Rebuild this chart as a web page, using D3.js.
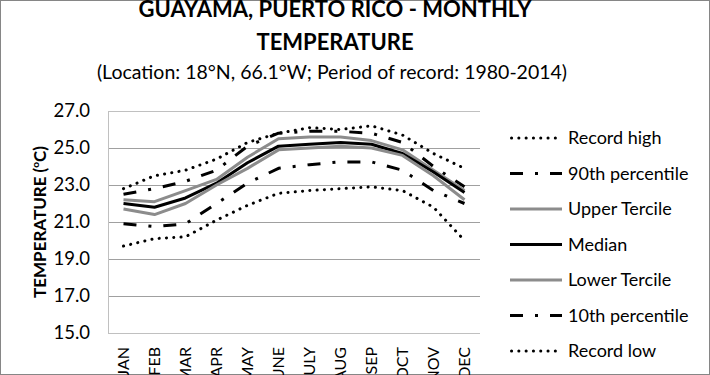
<!DOCTYPE html>
<html>
<head>
<meta charset="utf-8">
<script src="https://cdn.jsdelivr.net/npm/d3@7"></script>
<style>
  body { margin: 0; background: #fff; }
  svg text { font-family: Lato, "Open Sans", sans-serif; }
</style>
</head>
<body>
<div id="chart"></div>
<script>
// months on the x axis
const months = ["JAN", "FEB", "MAR", "APR", "MAY", "JUNE", "JULY", "AUG", "SEP", "OCT", "NOV", "DEC"];
const yTicks = [15, 17, 19, 21, 23, 25, 27];

// values (deg C)
const recordHigh = [22.8, 23.5, 23.8, 24.4, 25.3, 25.8, 26.1, 26.0, 26.2, 25.7, 24.7, 23.9];
const p90 = [22.5, 22.8, 23.2, 23.8, 25.1, 25.8, 25.9, 25.9, 25.8, 25.3, 24.0, 22.9];
const upperTercile = [22.2, 22.1, 22.7, 23.3, 24.5, 25.5, 25.6, 25.6, 25.4, 24.9, 23.8, 22.7];
const median = [22.0, 21.8, 22.3, 23.1, 24.2, 25.1, 25.2, 25.3, 25.2, 24.7, 23.7, 22.6];
const lowerTercile = [21.7, 21.4, 22.0, 23.0, 23.9, 24.9, 25.0, 25.1, 25.0, 24.6, 23.5, 22.2];
const p10 = [20.9, 20.75, 20.9, 22.0, 23.1, 23.9, 24.1, 24.25, 24.25, 23.8, 22.7, 22.0];
const recordLow = [19.7, 20.1, 20.2, 21.1, 21.9, 22.55, 22.7, 22.8, 22.9, 22.7, 21.8, 20.0];

const series = [
  { name: "Record high", values: recordHigh, color: "#000", width: 3, dash: "0.1,7.2", cap: "round" },
  { name: "90th percentile", values: p90, color: "#000", width: 3, dash: "13,12,3,12", cap: "butt" },
  { name: "Upper Tercile", values: upperTercile, color: "#8c8c8c", width: 3, dash: null, cap: "butt" },
  { name: "Median", values: median, color: "#000", width: 3, dash: null, cap: "butt" },
  { name: "Lower Tercile", values: lowerTercile, color: "#8c8c8c", width: 3, dash: null, cap: "butt" },
  { name: "10th percentile", values: p10, color: "#000", width: 3, dash: "13,12,3,12", cap: "butt" },
  { name: "Record low", values: recordLow, color: "#000", width: 3, dash: "0.1,7.2", cap: "round" }
];

const W = 710, H = 375;
const margin = { top: 111, right: 230, bottom: 42, left: 108 };
const width = W - margin.left - margin.right;
const height = H - margin.top - margin.bottom;

const svg = d3.select("#chart").append("svg")
  .attr("width", W)
  .attr("height", H);

// outer border
svg.append("rect")
  .attr("x", 0.5).attr("y", 0.5)
  .attr("width", W - 1).attr("height", H - 1)
  .attr("fill", "#fff")
  .attr("stroke", "#868686");

// titles
svg.append("text")
  .attr("x", 335).attr("y", 17)
  .attr("text-anchor", "middle")
  .attr("font-size", 22).attr("font-weight", "bold")
  .attr("fill", "#000")
  .text("GUAYAMA, PUERTO RICO - MONTHLY");
svg.append("text")
  .attr("x", 335).attr("y", 50)
  .attr("text-anchor", "middle")
  .attr("font-size", 22).attr("font-weight", "bold")
  .attr("fill", "#000")
  .text("TEMPERATURE");
svg.append("text")
  .attr("x", 332).attr("y", 79)
  .attr("text-anchor", "middle")
  .attr("font-size", 19.5)
  .attr("fill", "#000")
  .text("(Location: 18°N, 66.1°W; Period of record: 1980-2014)");

const g = svg.append("g")
  .attr("transform", `translate(${margin.left},${margin.top})`);

const x = d3.scaleBand()
  .domain(months)
  .range([0, width]);

const y = d3.scaleLinear()
  .domain([15, 27])
  .range([height, 0]);

// gridlines
g.append("g")
  .selectAll("line")
  .data(yTicks)
  .join("line")
  .attr("x1", 0).attr("x2", width)
  .attr("y1", d => Math.round(y(d)) + 0.5)
  .attr("y2", d => Math.round(y(d)) + 0.5)
  .attr("stroke", d => (d == 15 || d == 27) ? "#c0c0c0" : "#a0a0a0")
  .attr("stroke-width", 1);

// y axis
const yAxis = g.append("g")
  .call(d3.axisLeft(y).tickValues(yTicks).tickFormat(d3.format(".1f")).tickSize(0).tickPadding(18));
yAxis.select(".domain").attr("stroke", "#c0c0c0").attr("d", `M0.5,0V${height}`);
yAxis.selectAll("text")
  .attr("font-size", 18.5)
  .attr("fill", "#000")
  .style("font-family", "Lato, sans-serif");

// x axis labels (rotated)
const xAxis = g.append("g")
  .attr("transform", `translate(0,${height})`)
  .call(d3.axisBottom(x).tickSize(0));
xAxis.select(".domain").remove();
xAxis.selectAll("text")
  .attr("font-size", 16)
  .attr("fill", "#000")
  .style("font-family", "Lato, sans-serif")
  .attr("transform", "rotate(-90)")
  .attr("text-anchor", "end")
  .attr("x", -14)
  .attr("y", 0)
  .attr("dy", "0.35em");

// y axis title
svg.append("text")
  .attr("transform", `translate(46,${margin.top + height / 2}) rotate(-90)`)
  .attr("text-anchor", "middle")
  .attr("font-size", 17).attr("font-weight", "bold")
  .attr("fill", "#000")
  .call(t => {
    t.append("tspan").text("TEMPERATURE (");
    t.append("tspan").attr("font-size", 10).attr("dy", -7).text("o");
    t.append("tspan").attr("dy", 7).text("C)");
  });

// lines
const line = d3.line()
  .x((d, i) => x(months[i]) + x.bandwidth() / 2)
  .y(d => y(d));

g.append("g")
  .selectAll("path")
  .data(series)
  .join("path")
  .attr("fill", "none")
  .attr("stroke", d => d.color)
  .attr("stroke-width", d => d.width)
  .attr("stroke-dasharray", d => d.dash)
  .attr("stroke-linecap", d => d.cap)
  .attr("stroke-linejoin", "round")
  .attr("d", d => line(d.values));

// legend
const legend = svg.append("g")
  .attr("transform", "translate(510,138)");

const item = legend.selectAll("g")
  .data(series)
  .join("g")
  .attr("transform", (d, i) => `translate(0,${i * 35.5})`);

item.append("line")
  .attr("x1", d => d.cap == "round" ? 1.5 : 0)
  .attr("x2", 52)
  .attr("y1", 0).attr("y2", 0)
  .attr("stroke", d => d.color)
  .attr("stroke-width", d => d.width)
  .attr("stroke-dasharray", d => d.dash)
  .attr("stroke-linecap", d => d.cap);

item.append("text")
  .attr("x", 58)
  .attr("y", 0)
  .attr("dy", "0.35em")
  .attr("font-size", 18)
  .attr("fill", "#000")
  .text(d => d.name);
</script>
</body>
</html>
